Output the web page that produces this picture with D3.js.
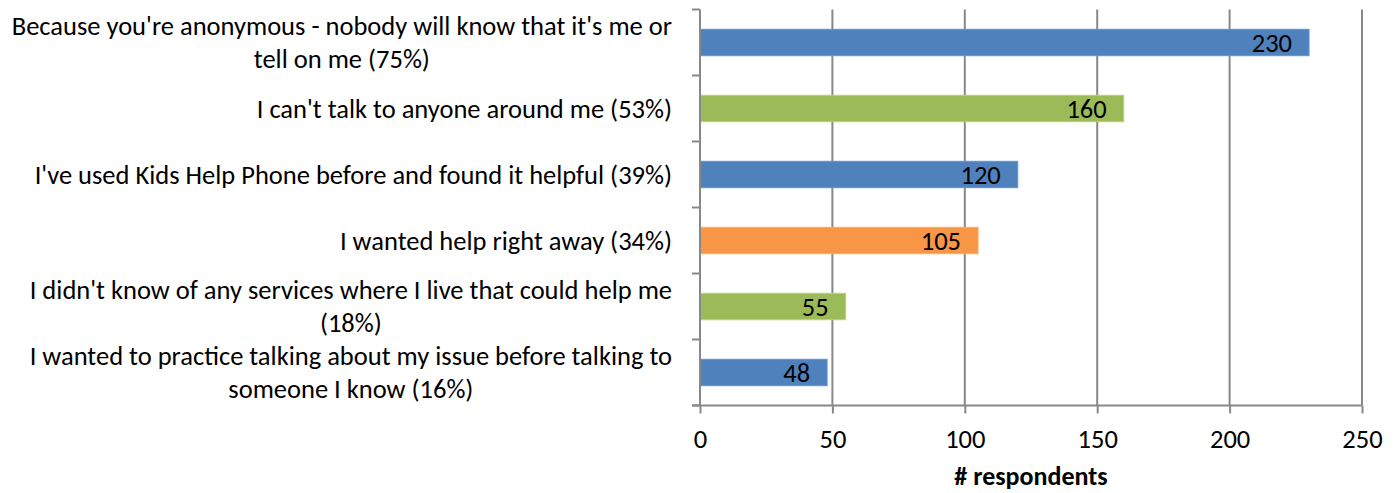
<!DOCTYPE html>
<html>
<head>
<meta charset="utf-8">
<script src="https://cdn.jsdelivr.net/npm/d3@7/dist/d3.min.js"></script>
<style>
  html, body { margin: 0; padding: 0; background: #fff; }
  svg { display: block; }
  text { font-family: Carlito, Lato, "Open Sans", sans-serif; fill: #000; }
</style>
</head>
<body>
<svg id="chart" width="1400" height="493"></svg>
<script>
const categories = [
  "Because you're anonymous - nobody will know that it's me or tell on me (75%)",
  "I can't talk to anyone around me (53%)",
  "I've used Kids Help Phone before and found it helpful (39%)",
  "I wanted help right away (34%)",
  "I didn't know of any services where I live that could help me (18%)",
  "I wanted to practice talking about my issue before talking to someone I know (16%)"
];
const values = [230, 160, 120, 105, 55, 48];
const barColors = ["#4F81BD", "#9BBB59", "#4F81BD", "#F79646", "#9BBB59", "#4F81BD"];
const xTicks = [0, 50, 100, 150, 200, 250];
const xTitle = "# respondents";

(function () {
const svg = d3.select("#chart");
const pLeft = 700, pRight = 1362, pTop = 9.5, pBottom = 405.5;
const fontSize = 26.5;
const lineHeight = 33;
const fontFam = "Carlito, Lato, 'Open Sans', sans-serif";

const x = d3.scaleLinear().domain([0, 250]).range([pLeft, pRight]);
const y = d3.scaleBand().domain(categories).range([pTop, pBottom])
  .paddingInner(0.6).paddingOuter(0.3);
const step = y.step();

const gridColor = "#888888";

// vertical gridlines
svg.append("g").selectAll("line").data(xTicks.slice(1)).join("line")
  .attr("x1", d => x(d)).attr("x2", d => x(d))
  .attr("y1", pTop).attr("y2", pBottom)
  .attr("stroke", gridColor).attr("stroke-width", 2);

// bars
svg.append("g").selectAll("rect").data(values).join("rect")
  .attr("x", x(0))
  .attr("y", (d, i) => y(categories[i]))
  .attr("width", d => x(d) - x(0))
  .attr("height", y.bandwidth())
  .attr("fill", (d, i) => barColors[i])
  .attr("stroke", (d, i) => d3.color(barColors[i]).brighter(0.4))
  .attr("stroke-width", 1);

// x axis
const xAxis = d3.axisBottom(x).tickValues(xTicks).tickSize(8).tickSizeOuter(0).tickPadding(16);
const gx = svg.append("g").attr("transform", `translate(0,${pBottom})`).call(xAxis);
gx.select(".domain").attr("stroke", gridColor).attr("stroke-width", 2)
  .attr("d", `M${pLeft - 8},0H${pRight}`);
gx.selectAll(".tick line").attr("stroke", gridColor).attr("stroke-width", 2);
gx.selectAll(".tick text").attr("font-size", fontSize)
  .attr("font-family", fontFam).attr("fill", "#000");

// y axis line and ticks at band boundaries
svg.append("line").attr("x1", pLeft).attr("x2", pLeft).attr("y1", pTop).attr("y2", pBottom)
  .attr("stroke", gridColor).attr("stroke-width", 2);
const boundaries = d3.range(categories.length + 1).map(i => pTop + i * step);
svg.append("g").selectAll("line").data(boundaries).join("line")
  .attr("x1", pLeft - 8).attr("x2", pLeft)
  .attr("y1", d => d).attr("y2", d => d)
  .attr("stroke", gridColor).attr("stroke-width", 2);

// category labels (wrapped, centered lines, block right-aligned)
const labelRight = 672;
const maxWidth = 668;
const measurer = svg.append("text").attr("font-size", fontSize).attr("visibility", "hidden");
function width(s) { measurer.text(s); return measurer.node().getComputedTextLength(); }
function wrap(s) {
  const words = s.split(" ");
  const lines = [];
  let cur = "";
  words.forEach(w => {
    const t = cur ? cur + " " + w : w;
    if (width(t) > maxWidth && cur) { lines.push(cur); cur = w; } else { cur = t; }
  });
  lines.push(cur);
  return lines;
}
const labelG = svg.append("g");
categories.forEach(c => {
  const lines = wrap(c);
  const maxW = d3.max(lines, width);
  const cx = labelRight - maxW / 2;
  const cy = y(c) + y.bandwidth() / 2;
  const t = labelG.append("text").attr("font-size", fontSize).attr("text-anchor", "middle");
  lines.forEach((ln, j) => {
    t.append("tspan").attr("x", cx)
      .attr("y", cy + (j - (lines.length - 1) / 2) * lineHeight)
      .attr("dy", "0.35em").text(ln);
  });
});
measurer.remove();

// value labels
svg.append("g").selectAll("text").data(values).join("text")
  .attr("x", d => x(d) - 17)
  .attr("y", (d, i) => y(categories[i]) + y.bandwidth() / 2)
  .attr("dy", "0.36em")
  .attr("text-anchor", "end")
  .attr("font-size", fontSize)
  .text(d => d);

// x title
svg.append("text").attr("x", (pLeft + pRight) / 2).attr("y", 476)
  .attr("dy", "0.35em").attr("text-anchor", "middle")
  .attr("font-size", 26).attr("font-weight", "bold").text(xTitle);
})();
</script>
</body>
</html>
